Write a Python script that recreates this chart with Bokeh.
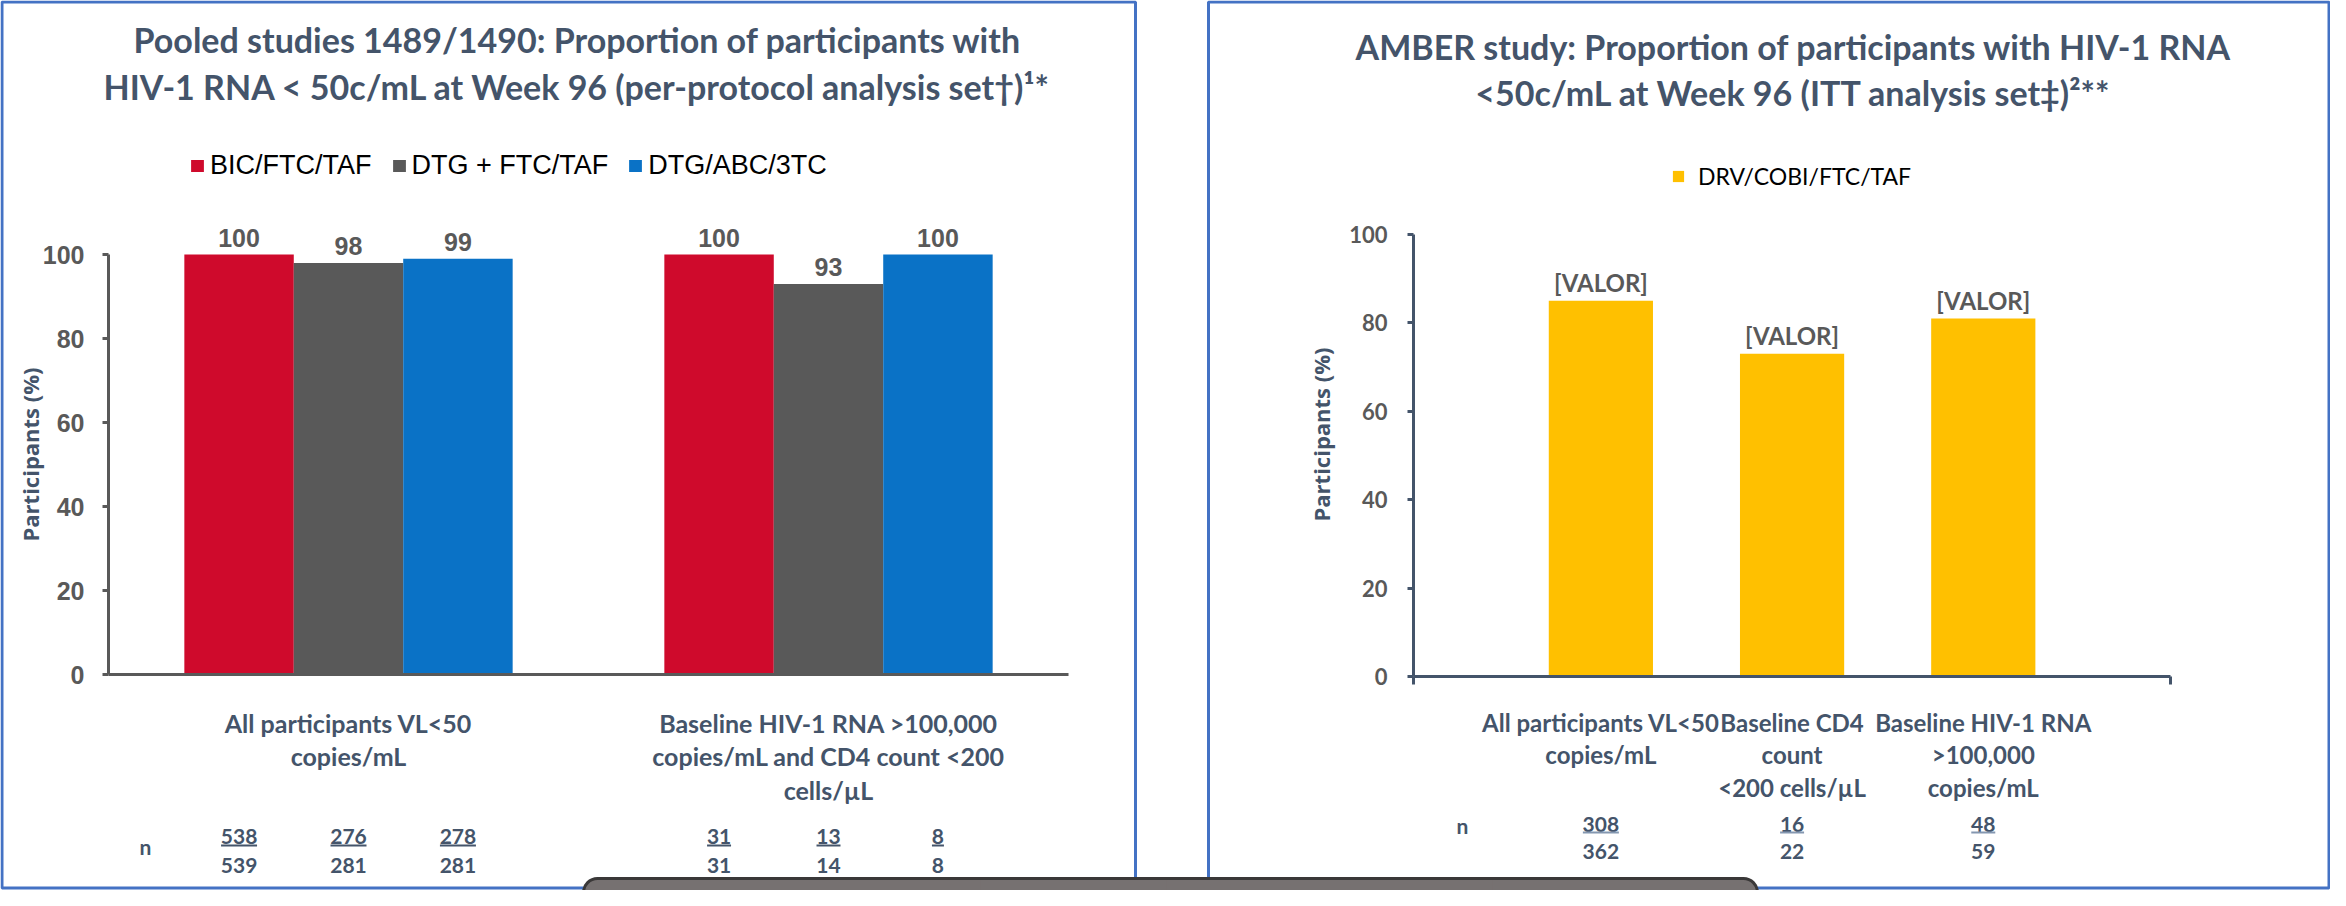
import math
from bokeh.plotting import figure
from bokeh.models import Range1d, FixedTicker, BoxAnnotation, ColumnDataSource
from bokeh.layouts import row
from bokeh.embed import file_html
from bokeh.resources import INLINE
from bokeh.core.properties import value

# ---------------- data ----------------
pooled_categories = ["All participants VL<50\ncopies/mL",
                     "Baseline HIV-1 RNA >100,000\ncopies/mL and CD4 count <200\ncells/µL"]
pooled_series = ["BIC/FTC/TAF", "DTG + FTC/TAF", "DTG/ABC/3TC"]
bic_ftc_taf_pct = [100, 100]
dtg_ftc_taf_pct = [98, 93]
dtg_abc_3tc_pct = [99, 100]
bic_ftc_taf_n = ["538", "31"]
bic_ftc_taf_total = ["539", "31"]
dtg_ftc_taf_n = ["276", "13"]
dtg_ftc_taf_total = ["281", "14"]
dtg_abc_3tc_n = ["278", "8"]
dtg_abc_3tc_total = ["281", "8"]

amber_categories = ["All participants VL<50\ncopies/mL",
                    "Baseline CD4\ncount\n<200 cells/µL",
                    "Baseline HIV-1 RNA\n>100,000\ncopies/mL"]
amber_series = "DRV/COBI/FTC/TAF"
drv_cobi_ftc_taf_pct = [85, 73, 81]
drv_cobi_ftc_taf_labels = ["[VALOR]", "[VALOR]", "[VALOR]"]
drv_cobi_ftc_taf_n = ["308", "16", "48"]
drv_cobi_ftc_taf_total = ["362", "22", "59"]

y_ticks = [0, 20, 40, 60, 80, 100]

left_title = ["Pooled studies 1489/1490: Proportion of participants with",
              "HIV-1 RNA < 50c/mL at Week 96 (per-protocol analysis set\u2020)\u00b9*"]
right_title = ["AMBER study: Proportion of participants with HIV-1 RNA",
               "<50c/mL at Week 96 (ITT analysis set\u2021)\u00b2**"]
y_label = "Participants (%)"

# ---------------- styles / layout (canvas pixels) ----------------
OVERLAP = 6                      # right figure slides under nothing, over the left one
W1, W2, H = 1172, 1158 + OVERLAP, 890
SLATE = "#44546A"
GREY = "#595959"
PANEL_BLUE = "#4472C4"
BAR_COLORS = ["#CF0A2C", "#595959", "#0A72C6"]
YELLOW = "#FFC000"
BOX_FILL = "#767171"
BOX_LINE = "#3A3838"
DIGIT_W = 12
TITLE_SIZE = "34px"
CAT_FONT = value("Lato")


class Frame:
    """maps canvas pixels to data coordinates for one panel"""
    def __init__(self, ax_px, ax_val, px_per_x, zero_px, px_per_y):
        self.ax_px, self.ax_val, self.pxx = ax_px, ax_val, px_per_x
        self.zero_px, self.pxy = zero_px, px_per_y

    def x(self, px):
        return self.ax_val + (px - self.ax_px) / self.pxx

    def y(self, py):
        return (self.zero_px - py) / self.pxy


def make_fig(w, fr, **kw):
    p = figure(width=w, height=H, output_backend="svg", toolbar_location=None,
               x_range=Range1d(fr.x(0), fr.x(w)), y_range=Range1d(fr.y(H), fr.y(0)),
               title_location=None, min_border=0,
               min_border_left=0, min_border_right=0, min_border_top=0, min_border_bottom=0,
               outline_line_color=None, **kw)
    p.grid.visible = False
    return p


def style_axes(p, color, font, size, standoff, x_bounds, x_end_ticks):
    ax = p.yaxis[0]
    ax.fixed_location = x_bounds[0]
    ax.bounds = (0, 100)
    ax.ticker = FixedTicker(ticks=y_ticks)
    ax.major_tick_out = 6
    ax.major_tick_in = 0
    ax.minor_tick_line_color = None
    ax.axis_line_color = color
    ax.axis_line_width = 3
    ax.major_tick_line_color = color
    ax.major_tick_line_width = 3
    ax.major_label_text_font = font
    ax.major_label_text_font_size = size
    ax.major_label_text_font_style = "bold"
    ax.major_label_text_color = GREY
    ax.major_label_standoff = standoff

    xa = p.xaxis[0]
    xa.fixed_location = 0
    xa.bounds = x_bounds
    ticks = list(x_bounds) if x_end_ticks else []
    xa.ticker = FixedTicker(ticks=ticks)
    xa.major_label_overrides = {t: "" for t in ticks}
    xa.major_tick_out = 8
    xa.major_tick_in = 0
    xa.minor_tick_line_color = None
    xa.axis_line_color = color
    xa.axis_line_width = 3
    xa.major_tick_line_color = color
    xa.major_tick_line_width = 3


def add_titles(p, fr, lines, cx, ys, ylab_xy):
    for line, yy in zip(lines, ys):
        p.text(x=[fr.x(cx)], y=[fr.y(yy)], text=[line], text_align="center",
               text_baseline="middle", text_font=value("Lato"),
               text_font_size=TITLE_SIZE, text_font_style="bold", text_color=SLATE)
    p.text(x=[fr.x(ylab_xy[0])], y=[fr.y(ylab_xy[1])], text=[y_label], angle=math.pi / 2,
           text_align="center", text_baseline="middle", text_font=value("Open Sans"),
           text_font_size="22px", text_font_style="bold", text_color=SLATE)


def style_legend(lg, loc, glyph_w, glyph_h, standoff, spacing, font, size):
    lg.orientation = "horizontal"
    lg.location = loc
    lg.padding = 0
    lg.margin = 0
    lg.spacing = spacing
    lg.glyph_width = glyph_w
    lg.glyph_height = glyph_h
    lg.label_standoff = standoff
    lg.border_line_color = None
    lg.background_fill_alpha = 0
    lg.label_text_font = font
    lg.label_text_font_size = size
    lg.label_text_color = "#000000"


def box(p, l, t, r, b, fill=None, line=None, radius=0):
    p.add_layout(BoxAnnotation(left=l, right=r, top=t, bottom=b,
                               left_units="canvas", right_units="canvas",
                               top_units="canvas", bottom_units="canvas",
                               fill_color=fill, fill_alpha=1 if fill else 0,
                               line_color=line, line_alpha=1 if line else 0,
                               line_width=3, border_radius=radius))


def panel_decor(p, border, box_l, box_r, box_top, rounded_left):
    l, t, r, b = border
    box(p, l, t, r, b, line=PANEL_BLUE)
    # grey overlay card crossing both panels: rounded end drawn here,
    # the straight continuation is drawn as fill + top edge strip
    box(p, box_l, box_top, box_r, box_top + 60, fill=BOX_FILL, line=BOX_LINE, radius=14)
    if rounded_left:
        cl, cr = box_r - 20, box_r + 500
    else:
        cl, cr = box_l - 500, box_l + 20
    box(p, cl, box_top + 1.5, cr, box_top + 60, fill=BOX_FILL)
    box(p, cl, box_top - 1.5, cr, box_top + 1.5, fill=BOX_LINE)


ntxt = dict(text_align="center", text_baseline="middle", text_font=CAT_FONT,
            text_font_size="21px", text_font_style="bold", text_color=SLATE)

# ================= LEFT PANEL =================
FL = Frame(ax_px=108, ax_val=0.5, px_per_x=480, zero_px=674, px_per_y=4.2)
p1 = make_fig(W1, FL)

BAR_W_L = 0.228
group_x = [i + 1 for i in range(len(pooled_categories))]
series_vals = [bic_ftc_taf_pct, dtg_ftc_taf_pct, dtg_abc_3tc_pct]
series_num = [bic_ftc_taf_n, dtg_ftc_taf_n, dtg_abc_3tc_n]
series_den = [bic_ftc_taf_total, dtg_ftc_taf_total, dtg_abc_3tc_total]

n_x, n_num, n_den = [], [], []
for j, (name, vals, col) in enumerate(zip(pooled_series, series_vals, BAR_COLORS)):
    xs = [g + (j - 1) * BAR_W_L for g in group_x]
    src = ColumnDataSource(dict(x=xs, top=vals, label=[str(v) for v in vals]))
    p1.vbar(x="x", top="top", bottom=0, width=BAR_W_L, source=src,
            fill_color=col, line_color=None, legend_label=name)
    p1.text(x="x", y="top", text="label", source=src, text_align="center",
            text_baseline="alphabetic", y_offset=-17,
            text_font=value("Liberation Sans"), text_font_size="25px",
            text_font_style="bold", text_color=GREY)
    n_x += xs
    n_num += series_num[j]
    n_den += series_den[j]

p1.text(x=group_x, y=[0] * len(group_x), text=pooled_categories, text_align="center",
        text_baseline="top", y_offset=33, text_line_height=1.13,
        text_font=CAT_FONT, text_font_size="25px", text_font_style="bold",
        text_color=SLATE)

p1.text(x=n_x, y=[0] * len(n_x), text=n_num, y_offset=162, **ntxt)
p1.text(x=n_x, y=[0] * len(n_x), text=n_den, y_offset=191, **ntxt)
p1.scatter(x=n_x, y=[-171 / FL.pxy] * len(n_x), marker="dash",
           size=[DIGIT_W * len(s) for s in n_num], line_color=SLATE, line_width=2)
p1.text(x=[FL.x(145)], y=[0], text=["n"], y_offset=172, **ntxt)

style_axes(p1, GREY, "Liberation Sans", "25px", 18, (0.5, 2.5), False)
add_titles(p1, FL, left_title, 577, (39, 86), (29, 454))
style_legend(p1.legend[0], (189, 709), 16, 15, 5, 19, "Liberation Sans", "27px")
panel_decor(p1, (1.5, 1.5, 1135, 887.5), 583, 1000, 878, True)

# ================= RIGHT PANEL =================
O = OVERLAP
FR = Frame(ax_px=241 + O, ax_val=0.02, px_per_x=191.2, zero_px=676, px_per_y=4.42)
p2 = make_fig(W2, FR, margin=(0, 0, 0, -O),
              border_fill_alpha=0, background_fill_alpha=0)

cat_x = [i + 1 for i in range(len(amber_categories))]
src2 = ColumnDataSource(dict(x=cat_x, top=drv_cobi_ftc_taf_pct, label=drv_cobi_ftc_taf_labels))
p2.vbar(x="x", top="top", bottom=0, width=0.545, source=src2,
        fill_color=YELLOW, line_color=None, legend_label=amber_series)
p2.text(x="x", y="top", text="label", source=src2, text_align="center",
        text_baseline="alphabetic", y_offset=-18,
        text_font=CAT_FONT, text_font_size="24px", text_font_style="bold",
        text_color=GREY)

p2.text(x=cat_x, y=[0] * len(cat_x), text=amber_categories, text_align="center",
        text_baseline="top", y_offset=31, text_line_height=1.13,
        text_font=CAT_FONT, text_font_size="24px", text_font_style="bold",
        text_color=SLATE)

p2.text(x=cat_x, y=[0] * len(cat_x), text=drv_cobi_ftc_taf_n, y_offset=148, **ntxt)
p2.text(x=cat_x, y=[0] * len(cat_x), text=drv_cobi_ftc_taf_total, y_offset=175, **ntxt)
p2.scatter(x=cat_x, y=[-156 / FR.pxy] * len(cat_x), marker="dash",
           size=[DIGIT_W * len(s) for s in drv_cobi_ftc_taf_n],
           line_color="#8497B0", line_width=2)
p2.text(x=[FR.x(290 + O)], y=[0], text=["n"], y_offset=149, **ntxt)

style_axes(p2, SLATE, "Lato", "22px", 20, (0.02, 3.98), True)
add_titles(p2, FR, right_title, 621 + O, (46, 92), (148 + O, 434))
style_legend(p2.legend[0], (499 + O, 700), 14, 14, 13, 10, "Lato", "23px")
panel_decor(p2, (36 + O, 1.5, 1156.5 + O, 887.5), 300 + O, 585 + O, 878, False)

layout = row(p1, p2)
open("out.html", "w").write(file_html(layout, INLINE))
